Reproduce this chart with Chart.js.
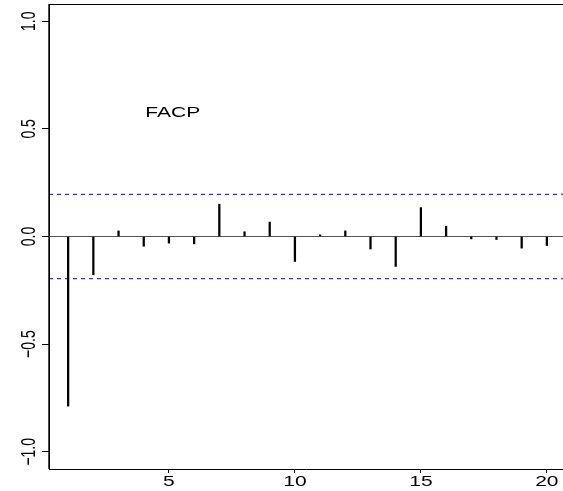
<!DOCTYPE html>
<html>
<head>
<meta charset="utf-8">
<script src="https://cdn.jsdelivr.net/npm/chart.js@4.4.1/dist/chart.umd.min.js"></script>
<style>
  html, body { margin: 0; padding: 0; background: #fff; overflow: hidden; }
  #wrap { width: 563px; height: 491px; }
</style>
</head>
<body>
<div id="wrap"><canvas id="facpChart" width="563" height="491"></canvas></div>
<script>
// partial autocorrelation by lag
const lags = [1, 2, 3, 4, 5, 6, 7, 8, 9, 10, 11, 12, 13, 14, 15, 16, 17, 18, 19, 20]
const facp = [-0.788, -0.178, 0.026, -0.045, -0.031, -0.034, 0.150, 0.022, 0.067, -0.116,
  0.008, 0.026, -0.058, -0.139, 0.134, 0.048, -0.011, -0.014, -0.054, -0.042]
const ciBound = 0.196
const xTicks = [5, 10, 15, 20]
const yTicks = [-1, -0.5, 0, 0.5, 1]
const yTickLabels = ['\u22121.0', '\u22120.5', '0.0', '0.5', '1.0']
const title = 'FACP'

const xMin = 0.24, xMax = 20.64
const yMin = -1.08, yMax = 1.08
const font = '14px "Liberation Sans", Arial, sans-serif'
const stretch = 1.5

const textPlugin = {
  id: 'rText',
  afterDraw(chart) {
    const { ctx, chartArea, scales: { x, y } } = chart
    ctx.save()
    // frame: top and left
    ctx.strokeStyle = '#000'
    ctx.lineWidth = 1
    ctx.beginPath()
    ctx.moveTo(chartArea.left, chartArea.top + 0.5)
    ctx.lineTo(chartArea.right, chartArea.top + 0.5)
    ctx.stroke()
    ctx.lineWidth = 1.4
    ctx.beginPath()
    ctx.moveTo(chartArea.left, chartArea.top)
    ctx.lineTo(chartArea.left, chartArea.bottom)
    ctx.stroke()

    ctx.fillStyle = '#000'
    ctx.font = font
    ctx.textAlign = 'center'
    ctx.textBaseline = 'alphabetic'

    xTicks.forEach(v => {
      ctx.save()
      ctx.translate(x.getPixelForValue(v), 486)
      ctx.scale(stretch, 1)
      ctx.fillText(String(v), 0, 0)
      ctx.restore()
    })

    yTicks.forEach((v, i) => {
      ctx.save()
      ctx.translate(35, y.getPixelForValue(v))
      ctx.scale(stretch, 1)
      ctx.rotate(-Math.PI / 2)
      ctx.fillText(yTickLabels[i], 0, 0)
      ctx.restore()
    })

    ctx.save()
    ctx.translate(x.getPixelForValue(5.15), y.getPixelForValue(0.556))
    ctx.scale(stretch, 1)
    ctx.fillText(title, 0, 0)
    ctx.restore()
    ctx.restore()
  }
}

new Chart(document.getElementById('facpChart'), {
  type: 'bar',
  data: {
    datasets: [
      {
        type: 'line',
        data: [{ x: xMin, y: 0 }, { x: xMax, y: 0 }],
        borderColor: '#555',
        borderWidth: 1.2,
        pointRadius: 0,
        order: 3
      },
      {
        type: 'line',
        data: [{ x: xMin, y: ciBound }, { x: xMax, y: ciBound }],
        borderColor: '#0000ff',
        borderWidth: 1,
        borderDash: [4, 4],
        pointRadius: 0,
        order: 2
      },
      {
        type: 'line',
        data: [{ x: xMin, y: -ciBound }, { x: xMax, y: -ciBound }],
        borderColor: '#0000ff',
        borderWidth: 1,
        borderDash: [4, 4],
        pointRadius: 0,
        order: 2
      },
      {
        type: 'bar',
        data: lags.map((l, i) => ({ x: l, y: facp[i] })),
        backgroundColor: '#000',
        borderWidth: 0,
        barThickness: 1.6,
        order: 1
      }
    ]
  },
  options: {
    responsive: false,
    animation: false,
    layout: { padding: { top: 4, left: 0, right: 0, bottom: 0 } },
    plugins: { legend: { display: false }, tooltip: { enabled: false } },
    scales: {
      x: {
        type: 'linear',
        offset: false,
        min: xMin, max: xMax,
        afterBuildTicks: s => { s.ticks = xTicks.map(v => ({ value: v })) },
        afterFit: s => { s.height = 22 },
        ticks: { display: false },
        grid: { offset: false, drawOnChartArea: false, drawTicks: true, tickLength: 4, color: '#000' },
        border: { display: true, color: '#000', width: 1 }
      },
      y: {
        min: yMin, max: yMax,
        afterBuildTicks: s => { s.ticks = yTicks.map(v => ({ value: v })) },
        afterFit: s => { s.width = 49 },
        ticks: { display: false },
        grid: { drawOnChartArea: false, drawTicks: true, tickLength: 7, color: '#000' },
        border: { display: true, color: '#000', width: 1 }
      }
    }
  },
  plugins: [textPlugin]
})
</script>
</body>
</html>
